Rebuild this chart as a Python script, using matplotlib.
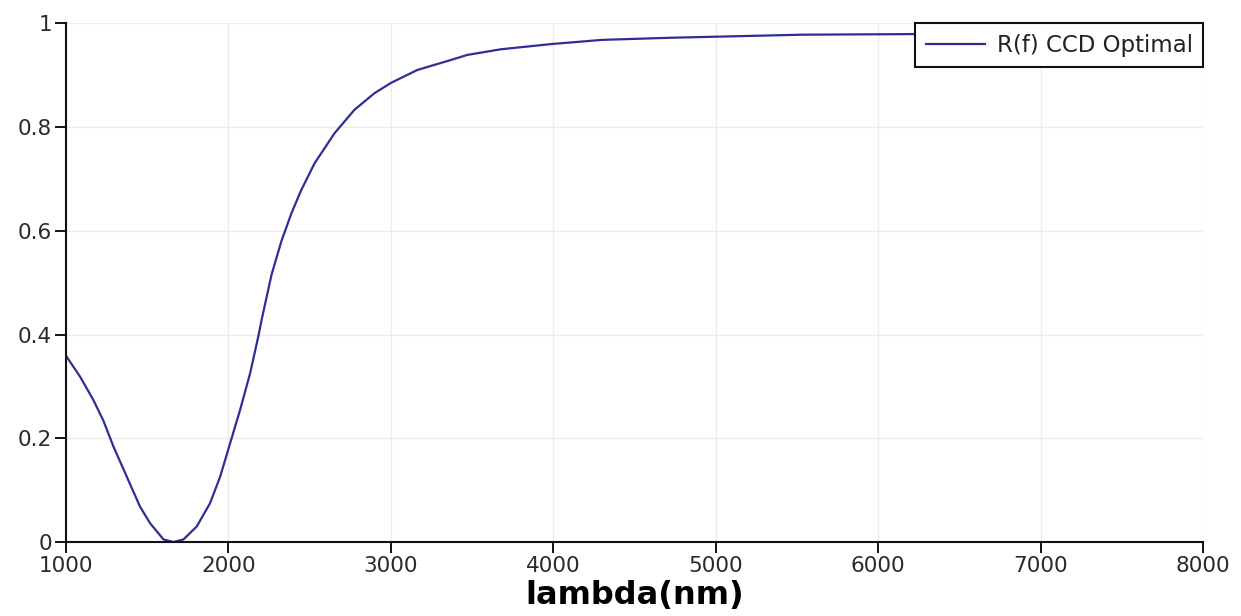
import matplotlib
matplotlib.use('Agg')
import matplotlib.pyplot as plt
import numpy as np
from matplotlib.ticker import FuncFormatter

# wavelength (nm) and reflectance
wavelength = [1000, 1086, 1168, 1230, 1292, 1374, 1456, 1518, 1600, 1661,
              1723, 1805, 1887, 1949, 2010, 2072, 2134, 2185, 2204, 2265,
              2326, 2388, 2449, 2530, 2653, 2775, 2898, 3000, 3163, 3367,
              3470, 3680, 3990, 4300, 4710, 5120, 5530, 6130, 7000, 8000]
reflectance = [0.359, 0.319, 0.274, 0.234, 0.184, 0.126, 0.068, 0.036, 0.005, 0.0,
               0.005, 0.030, 0.075, 0.126, 0.190, 0.255, 0.326, 0.398, 0.428, 0.515,
               0.580, 0.634, 0.679, 0.730, 0.788, 0.833, 0.865, 0.885, 0.910, 0.929,
               0.939, 0.950, 0.960, 0.968, 0.972, 0.975, 0.978, 0.979, 0.981, 0.983]
series_label = 'R(f) CCD Optimal'
x_ticks = [1000, 2000, 3000, 4000, 5000, 6000, 7000, 8000]
y_ticks = [0, 0.2, 0.4, 0.6, 0.8, 1]

plt.rcParams['font.family'] = ['DejaVu Sans']

fig = plt.figure(figsize=(12.41, 6.16), dpi=100)
ax = fig.add_axes([0.0532, 0.1201, 0.9162, 0.8421])

ax.plot(wavelength, reflectance, color='#2e2e96', linewidth=1.6, label=series_label)

ax.set_xlim(1000, 8000)
ax.set_ylim(0, 1)
ax.set_xticks(x_ticks)
ax.set_yticks(y_ticks)
ax.yaxis.set_major_formatter(FuncFormatter(lambda v, p: '%g' % v))

ax.grid(True, color='#ececec', linewidth=1)
ax.set_axisbelow(True)
for s in ['top', 'right']:
    ax.spines[s].set_visible(False)
for s in ['left', 'bottom']:
    ax.spines[s].set_linewidth(1.5)
    ax.spines[s].set_color('#111111')

ax.tick_params(direction='out', length=8, width=1.3, labelsize=15.5,
               labelcolor='#2a2a2a', pad=2)

ax.set_xlabel('lambda(nm)', fontsize=23, fontweight='bold', labelpad=3)

leg = ax.legend(loc='upper right', bbox_to_anchor=(1.0, 1.0), fontsize=16.5,
                frameon=True, fancybox=False, framealpha=1, borderaxespad=0,
                handlelength=2.6, handletextpad=0.5, borderpad=0.45)
leg.get_frame().set_edgecolor('#111111')
leg.get_frame().set_linewidth(1.5)
for t in leg.get_texts():
    t.set_color('#222222')

fig.savefig('out.png', dpi=100, facecolor='white')
